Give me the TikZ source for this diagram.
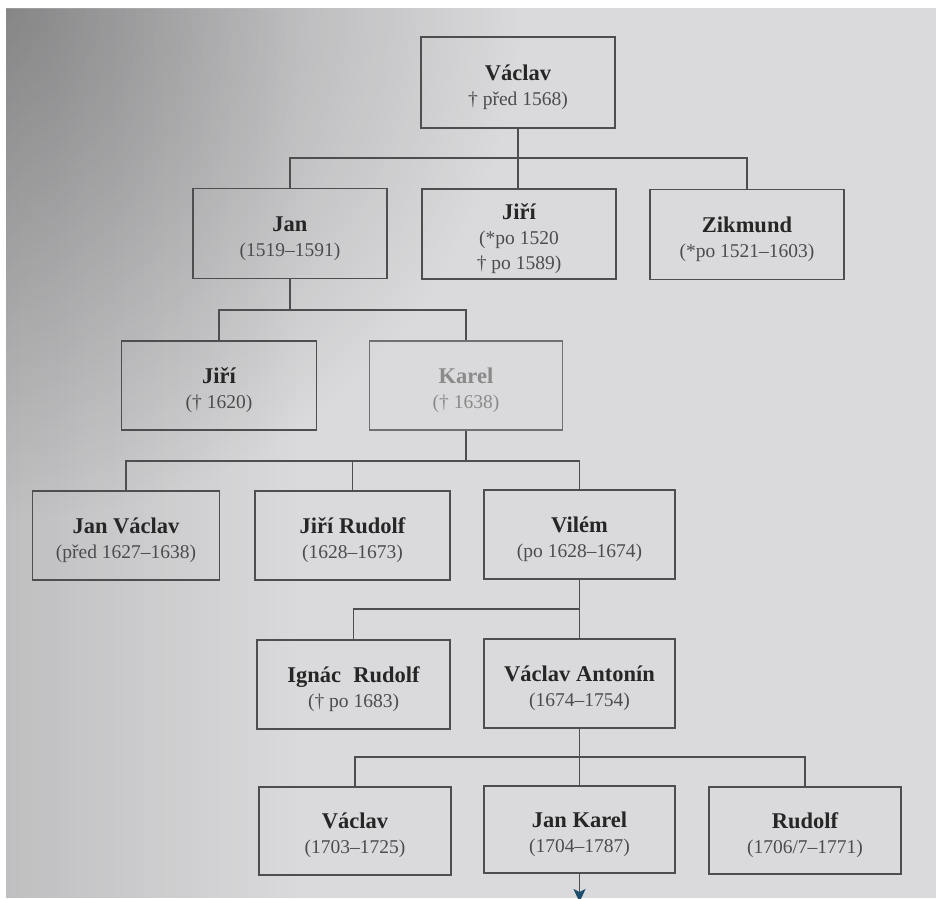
\documentclass[tikz,border=0pt]{standalone}
\usepackage{fontspec}
\setmainfont{Liberation Serif}
\usetikzlibrary{arrows.meta,fadings}
\definecolor{pagebg}{HTML}{DADADC}
\definecolor{linecol}{HTML}{4E4E50}
\definecolor{namecol}{HTML}{262626}
\definecolor{datecol}{HTML}{4C4C4E}
\definecolor{fadedcol}{HTML}{8A8A8A}
\definecolor{fadedline}{HTML}{707072}
\definecolor{arrowcol}{HTML}{1E4D6E}
\tikzfading[name=tlfade, inner color=transparent!0, outer color=transparent!100]
\newcommand\pname[1]{{\fontsize{22.5}{25}\selectfont\bfseries\color{namecol}#1}}
\newcommand\pdate[1]{{\fontsize{19.5}{25}\selectfont\color{datecol}#1}}
\newcommand\entry[2]{\rule{0pt}{25pt}\pname{#1}\\\pdate{#2}}
\begin{document}
\begin{tikzpicture}[x=1pt,y=-1pt,
  person/.style={draw=linecol, line width=1.4pt, minimum width=194pt, minimum height=90pt,
    inner sep=0pt, align=center, font=\fontsize{20}{25}\selectfont},
  link/.style={draw=linecol, line width=1.2pt}]
\useasboundingbox (0,0) rectangle (936,898);
\fill[white] (0,0) rectangle (936,898);
\fill[pagebg] (6,8) rectangle (936,898);
\fill[black, fill opacity=0.12, path fading=east, fit fading=true] (6,8) rectangle (300,898);
\begin{scope}
  \clip (6,8) rectangle (936,898);
  \fill[black, fill opacity=0.30, path fading=tlfade, fit fading=true] (-520,-520) rectangle (520,520);
\end{scope}

% level 0
\node[person, minimum height=91pt] (v0) at (518,82.5) {\entry{Václav}{† před 1568)}};
% level 1
\node[person] (jan) at (290,233.5) {\entry{Jan}{(1519–1591)}};
\node[person] (jiri) at (519,234) {\rule{0pt}{26pt}\pname{Jiří}\\\pdate{(*po 1520}\\\pdate{† po 1589)}};
\node[person] (zik) at (747,234.5) {\entry{Zikmund}{(*po 1521–1603)}};
% level 2
\node[person, minimum width=195pt, minimum height=89pt] (jiri2) at (219,385.5) {\entry{Jiří}{(† 1620)}};
\node[person, draw=fadedline, minimum width=193pt, minimum height=89pt] (karel) at (466,385.5)
  {\rule{0pt}{25pt}{\fontsize{22.5}{25}\selectfont\bfseries\color{fadedcol}Karel}\\{\fontsize{19.5}{25}\selectfont\color{fadedcol}(† 1638)}};
% level 3
\node[person, minimum width=187pt, minimum height=89pt] (janv) at (126,535.5) {\entry{Jan Václav}{(před 1627–1638)}};
\node[person, minimum width=195pt, minimum height=89pt] (jirir) at (352.5,535.5) {\entry{Jiří Rudolf}{(1628–1673)}};
\node[person, minimum width=191pt, minimum height=89pt] (vilem) at (579.5,534.5) {\entry{Vilém}{(po 1628–1674)}};
% level 4
\node[person, minimum width=193pt, minimum height=89pt] (ignac) at (353.5,684.5) {\entry{Ignác\hspace{0.3em} Rudolf}{(† po 1683)}};
\node[person, minimum width=191pt, minimum height=89pt] (vant) at (579.5,683.5) {\entry{Václav Antonín}{(1674–1754)}};
% level 5
\node[person, minimum width=192pt, minimum height=88pt] (vac3) at (355,831) {\entry{Václav}{(1703–1725)}};
\node[person, minimum width=191pt, minimum height=87pt] (jkarel) at (579.5,829.5) {\entry{Jan Karel}{(1704–1787)}};
\node[person, minimum width=192pt, minimum height=87pt] (rudolf) at (805,830.5) {\entry{Rudolf}{(1706/7–1771)}};

% connectors
\coordinate (b0) at (518,158);
\draw[link] (v0.south) -- (b0);
\draw[link] (jan.north) |- (b0) -| (zik.north);
\draw[link] (b0) -- (b0 |- jiri.north);

\coordinate (b1) at (290,310);
\draw[link] (jan.south) -- (b1);
\draw[link] (jiri2.north) |- (b1) -| (karel.north);

\coordinate (b2) at (466,461);
\draw[link] (karel.south) -- (b2);
\draw[link] (janv.north) |- (b2) -| (vilem.north);
\draw[link] (jirir.north) -- (jirir.north |- b2);

\coordinate (b3) at (579.5,609);
\draw[link] (vilem.south) -- (b3);
\draw[link] (ignac.north) |- (b3) -- (vant.north);

\coordinate (b4) at (579.5,757);
\draw[link] (vant.south) -- (b4);
\draw[link] (vac3.north) |- (b4) -| (rudolf.north);
\draw[link] (b4) -- (jkarel.north);

\coordinate (arrowend) at (579.5,902);
\draw[link, -{Stealth[length=13pt, width=12pt, inset=3pt, color=arrowcol]}] (jkarel.south) -- (arrowend);
\end{tikzpicture}
\end{document}
